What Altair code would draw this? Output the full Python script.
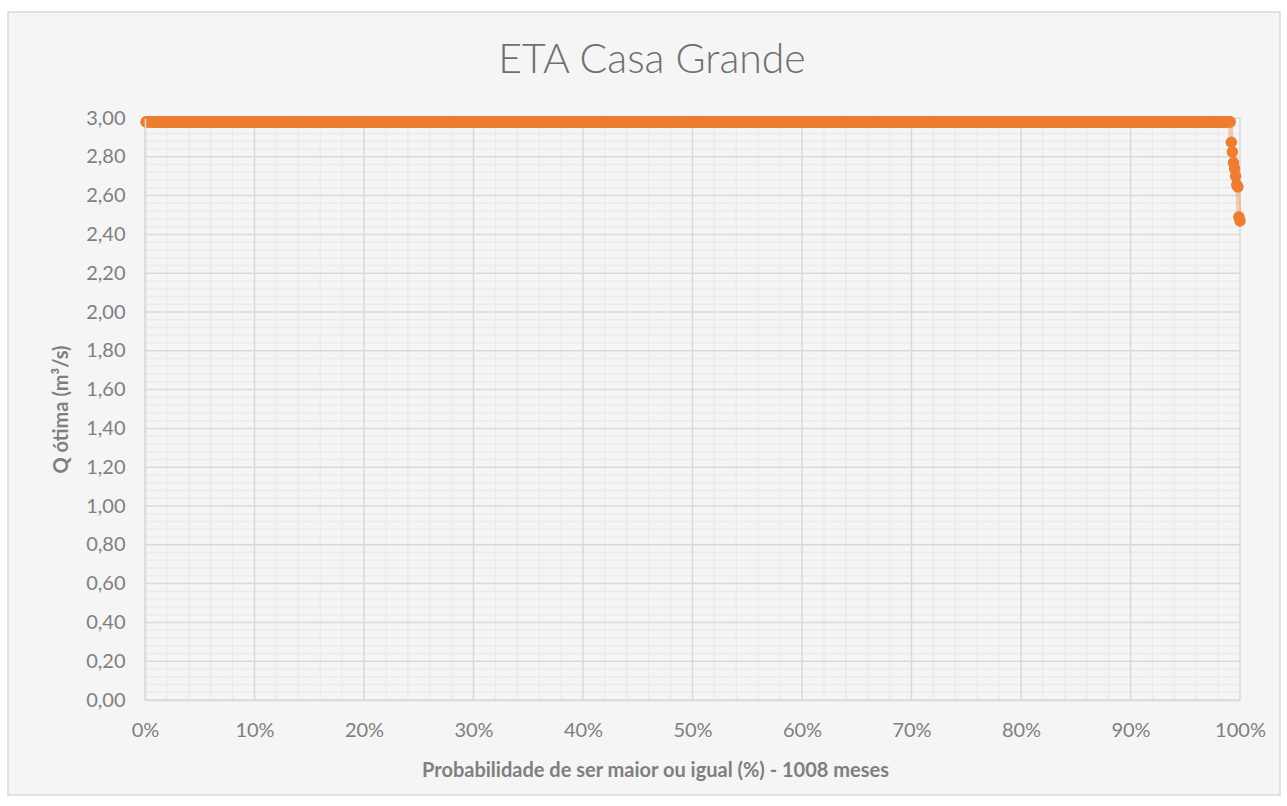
import altair as alt
import pandas as pd

# Monthly optimum flow, sorted from largest to smallest (1008 months)
n_months = 1008
flat_q = 2.98          # value held by almost every month
flat_count = 999
tail_q = [2.875, 2.825, 2.77, 2.74, 2.70, 2.655, 2.645, 2.49, 2.47]

x_ticks = [0, 0.1, 0.2, 0.3, 0.4, 0.5, 0.6, 0.7, 0.8, 0.9, 1.0]
y_ticks = [0.0, 0.2, 0.4, 0.6, 0.8, 1.0, 1.2, 1.4, 1.6, 1.8, 2.0, 2.2, 2.4, 2.6, 2.8, 3.0]
x_minor = [v / 100 for v in range(0, 101, 2) if v % 10]
y_minor = [round(k * 0.04, 2) for k in range(76) if k % 5]

q = [flat_q] * flat_count + tail_q
prob = [(i + 1) / n_months for i in range(n_months)]
series = pd.DataFrame({"p": prob, "q": q})

W, H = 1095, 582
FONT = "Lato"
ORANGE = "#ED7D31"
TXT = "#7f7f7f"

x_scale = alt.Scale(domain=[0, 1], nice=False, zero=False)
y_scale = alt.Scale(domain=[0, 3], nice=False, zero=False)

x_axis = alt.Axis(
    values=x_ticks, format=".0%", grid=False, ticks=False, zindex=1,
    labelFlush=False, labelOverlap=False,
    domainColor="#d9d9d9", domainWidth=1.5,
    labelFont=FONT, labelFontSize=20, labelColor=TXT, labelPadding=20,
    title="Probabilidade de ser maior ou igual (%) - 1008 meses",
    titleFont=FONT, titleFontSize=20, titleFontWeight="bold", titleColor=TXT,
    titleX=510, titleY=76, titleBaseline="alphabetic", titleAlign="center",
)
y_axis = alt.Axis(
    values=y_ticks, grid=False, ticks=False, zindex=1,
    labelFlush=False, labelOverlap=False,
    labelExpr="replace(format(datum.value, '.2f'), '.', ',')",
    domainColor="#d9d9d9", domainWidth=1.5,
    labelFont=FONT, labelFontSize=20, labelColor=TXT, labelPadding=20,
    title="Q ótima (m³/s)",
    titleFont=FONT, titleFontSize=20, titleFontWeight="bold", titleColor=TXT,
    titlePadding=14,
)

X = alt.X("p:Q", scale=x_scale, axis=x_axis)
Y = alt.Y("q:Q", scale=y_scale, axis=y_axis)

# chart area panel with a thin frame
panel = alt.Chart(alt.Data(values=[{}])).mark_rect(
    fill="#f5f5f5", stroke="#d9d9d9", strokeWidth=1.5
).encode(
    x=alt.value(-137), x2=alt.value(1135), y=alt.value(-106), y2=alt.value(677)
)

title = alt.Chart(alt.Data(values=[{}])).mark_text(
    text="ETA Casa Grande", font=FONT, fontSize=41, fontWeight=300,
    color="#6f6f6f", align="center", baseline="alphabetic",
).encode(x=alt.value(507), y=alt.value(-45))

v_minor = alt.Chart(pd.DataFrame({"p": x_minor})).mark_rule(
    color="#ebebeb", strokeWidth=1.5).encode(x=X)
h_minor = alt.Chart(pd.DataFrame({"q": y_minor})).mark_rule(
    color="#ebebeb", strokeWidth=1.5).encode(y=Y)
v_major = alt.Chart(pd.DataFrame({"p": x_ticks})).mark_rule(
    color="#d9d9d9", strokeWidth=1.5).encode(x=X)
h_major = alt.Chart(pd.DataFrame({"q": y_ticks})).mark_rule(
    color="#d9d9d9", strokeWidth=1.5).encode(y=Y)

line = alt.Chart(series).mark_line(
    color=ORANGE, opacity=0.35, strokeWidth=5).encode(x=X, y=Y)
points = alt.Chart(series).mark_circle(
    color=ORANGE, size=135, opacity=1).encode(x=X, y=Y)

chart = alt.layer(
    panel, title, v_minor, h_minor, v_major, h_major, line, points
).properties(
    width=W, height=H,
    autosize=alt.AutoSizeParams(type="none"),
    padding={"left": 145, "top": 118, "right": 42, "bottom": 100},
    background="white",
).configure_view(stroke=None)

chart.save("out.html", embed_options={"renderer": "svg", "actions": False})
